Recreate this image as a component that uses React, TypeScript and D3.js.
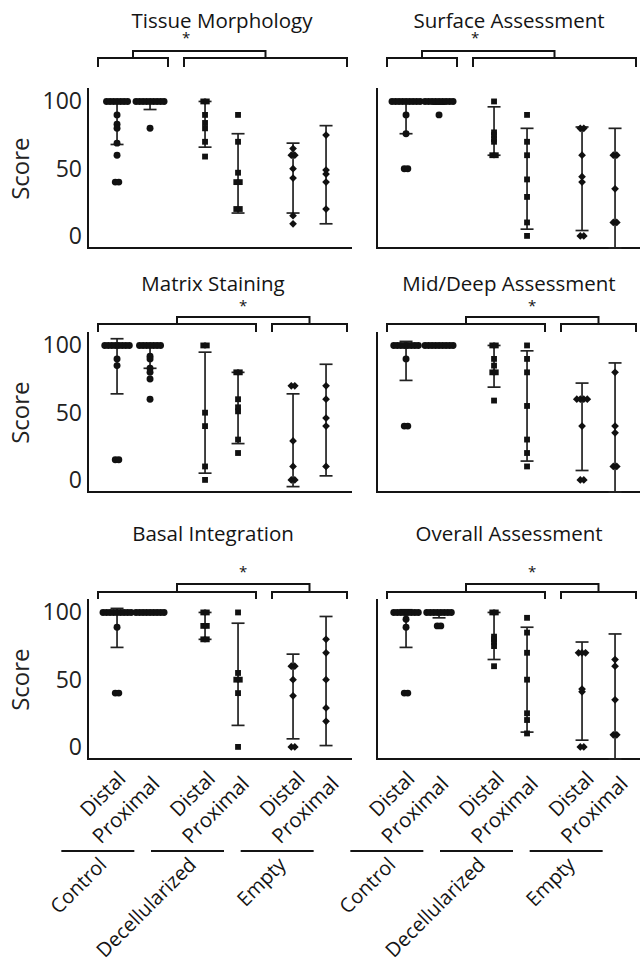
import React from "react";
import * as d3 from "d3";

const panelTitles = [
  "Tissue Morphology",
  "Surface Assessment",
  "Matrix Staining",
  "Mid/Deep Assessment",
  "Basal Integration",
  "Overall Assessment",
];
const groups = ["Control", "Decellularized", "Empty"];
const sites = ["Distal", "Proximal"];
const yTicks = [0, 50, 100];

// each panel: 6 columns = Control D/P, Decellularized D/P, Empty D/P
const tissueMorphology = [
  [100, 100, 100, 100, 100, 100, 100, 90, 83, 80, 69, 60, 40, 40],
  [100, 100, 100, 100, 100, 100, 100, 100, 100, 80],
  [100, 100, 90, 84, 80, 70, 59],
  [90, 70, 47, 40, 40, 20, 20],
  [65, 60, 60, 50, 43, 15, 9],
  [75, 49, 46, 40, 20],
];
const surfaceAssessment = [
  [100, 100, 100, 100, 100, 100, 100, 100, 100, 90, 76, 50, 50],
  [100, 100, 100, 100, 100, 100, 100, 100, 100, 90],
  [100, 77, 75, 72, 70, 60, 60],
  [90, 70, 60, 42, 29, 10, 0],
  [80, 80, 60, 44, 40, 0, 0],
  [60, 60, 35, 10, 10],
];
const matrixStaining = [
  [100, 100, 100, 100, 100, 100, 100, 100, 90, 85, 15, 15],
  [100, 100, 100, 100, 100, 100, 100, 92, 90, 83, 80, 75, 60],
  [100, 100, 50, 40, 10, 0],
  [80, 80, 60, 54, 51, 30, 20],
  [70, 70, 29, 10, 0, 0],
  [70, 60, 46, 40, 10],
];
const midDeepAssessment = [
  [100, 100, 100, 100, 100, 100, 100, 100, 90, 40, 40],
  [100, 100, 100, 100, 100, 100, 100, 100, 100],
  [100, 100, 90, 85, 80, 80, 59],
  [100, 90, 80, 55, 30, 20, 10],
  [60, 60, 60, 60, 40, 0, 0],
  [80, 40, 35, 10, 10],
];
const basalIntegration = [
  [100, 100, 100, 100, 100, 100, 100, 100, 100, 89, 40, 40],
  [100, 100, 100, 100, 100, 100, 100, 100, 100],
  [100, 100, 90, 90, 80, 80],
  [100, 55, 50, 50, 40, 0],
  [60, 60, 50, 38, 0, 0],
  [80, 70, 50, 29, 19],
];
const overallAssessment = [
  [100, 100, 100, 100, 100, 100, 100, 100, 95, 89, 40, 40],
  [100, 100, 100, 100, 100, 100, 100, 100, 90, 90],
  [100, 100, 82, 80, 78, 75, 60],
  [96, 85, 70, 50, 25, 20, 10],
  [70, 70, 70, 43, 41, 0, 0],
  [65, 60, 35, 9, 9],
];

// error bars [low, high] per column
const tissueBars = [[68, 100], [94, 100], [66, 100], [17, 76], [17, 69], [9, 82]];
const surfaceBars = [[76, 100], [98, 100], [60, 96], [5, 80], [4, 81], [-9, 80]];
const matrixBars = [[64, 105], [83, 100], [5, 95], [27, 80], [-5, 64], [3, 86]];
const midDeepBars = [[74, 103], [100, 100], [69, 100], [14, 96], [7, 72], [-9, 87]];
const basalBars = [[74, 103], [100, 100], [80, 100], [16, 92], [6, 69], [1, 97]];
const overallBars = [[74, 102], [96, 100], [65, 100], [11, 89], [5, 78], [-9, 84]];

// significance: first set of groups vs second set
const sigFirst = [["Control"], ["Control"], ["Control", "Decellularized"], ["Control", "Decellularized"], ["Control", "Decellularized"], ["Control", "Decellularized"]];
const sigSecond = [["Decellularized", "Empty"], ["Decellularized", "Empty"], ["Empty"], ["Empty"], ["Empty"], ["Empty"]];

const panelScores = [tissueMorphology, surfaceAssessment, matrixStaining, midDeepAssessment, basalIntegration, overallAssessment];
const panelBars = [tissueBars, surfaceBars, matrixBars, midDeepBars, basalBars, overallBars];

const FONT = "'Open Sans', 'Noto Sans', sans-serif";
const INK = "#141414";
const colLeft = [88, 377];
const rowTop = [88, 332, 599];
const PW = 264;
const PH = 160;
// per row: title baseline, star, top bracket, bracket, tick end (relative to panel top)
const rowLayout = [
  { title: -60, titleDx: 2, star: -53, starDx: -13, top: -37, bracket: -30, tick: -21 },
  { title: -41, titleDx: -7, star: -29, starDx: 0, top: -15, bracket: -8, tick: 0 },
  { title: -58, titleDx: -7, star: -30, starDx: 0, top: -15, bracket: -7, tick: 0 },
];

function Panel({ idx }: { idx: number }) {
  const row = Math.floor(idx / 2);
  const col = idx % 2;
  const x0 = colLeft[col];
  const y0 = rowTop[row];
  const lay = rowLayout[row];

  const x = d3.scaleBand().domain(groups).range([x0, x0 + PW]);
  const bw = x.bandwidth();
  const sub = d3.scalePoint().domain(sites).range([bw * 0.33, bw * 0.705]);
  const y = d3.scaleLinear().domain([-9, 110]).range([y0 + PH, y0]);

  const scores = panelScores[idx];
  const bars = panelBars[idx];

  const colX = (c: number) => x(groups[Math.floor(c / 2)])! + sub(sites[c % 2])!;

  // brackets
  const first = sigFirst[idx];
  const second = sigSecond[idx];
  const aStart = x(first[0])! + 10;
  const aEnd = x(first[first.length - 1])! + bw - 8;
  const bStart = x(second[0])! + 8;
  const bEnd = x(second[second.length - 1])! + bw - 5;
  const aMid = (aStart + aEnd) / 2;
  const bMid = (bStart + bEnd) / 2;
  const yb = y0 + lay.bracket;
  const yt = y0 + lay.tick;
  const ytop = y0 + lay.top;

  return (
    <g>
      <text x={x0 + PW / 2 + (col === 0 ? lay.titleDx : 0)} y={y0 + lay.title} textAnchor="middle" fontSize={20.5} fill={INK} fontFamily={FONT}>
        {panelTitles[idx]}
      </text>
      <g fill="none" stroke={INK} strokeWidth={2}>
        <path d={`M${aStart},${yt}V${yb}H${aEnd}V${yt}`} />
        <path d={`M${bStart},${yt}V${yb}H${bEnd}V${yt}`} />
        <path d={`M${aMid},${yb}V${ytop}H${bMid}V${yb}`} />
      </g>
      <text x={(aMid + bMid) / 2 + lay.starDx} y={y0 + lay.star + 8} textAnchor="middle" fontSize={15} fill={INK} fontFamily={FONT}>
        *
      </text>

      {/* axes */}
      <path d={`M${x0},${y0}V${y0 + PH}H${x0 + PW}`} fill="none" stroke={INK} strokeWidth={2} />
      {col === 0 &&
        yTicks.map((t) => (
          <text key={t} x={x0 - 6} y={y(t)} dy="0.35em" textAnchor="end" fontSize={23} fill="#222" fontFamily={FONT}>
            {t}
          </text>
        ))}
      {col === 0 && (
        <text transform={`translate(29,${y(50)}) rotate(-90)`} textAnchor="middle" fontSize={24} fill="#222" fontFamily={FONT}>
          Score
        </text>
      )}

      {/* error bars */}
      {bars.map(([lo, hi], c) => {
        if (lo === hi) return null;
        const cx = colX(c);
        return (
          <g key={`e${c}`} stroke="#222" strokeWidth={1.7}>
            <line x1={cx} x2={cx} y1={y(lo)} y2={y(hi)} />
            <line x1={cx - 6.5} x2={cx + 6.5} y1={y(lo)} y2={y(lo)} />
            <line x1={cx - 6.5} x2={cx + 6.5} y1={y(hi)} y2={y(hi)} />
          </g>
        );
      })}

      {/* points, identical scores spread sideways */}
      {scores.map((vals, c) => {
        const g = groups[Math.floor(c / 2)];
        const cx = colX(c);
        const counts = d3.rollup(vals, (v) => v.length, (v) => v);
        const seen = new Map<number, number>();
        const shape = g === "Control" ? d3.symbolCircle : d3.symbolSquare;
        const size = g === "Control" ? 38 : g === "Empty" ? 30 : 34;
        const path = d3.symbol().type(shape).size(size)()!;
        return vals.map((v, i) => {
          const n = counts.get(v)!;
          const k = seen.get(v) || 0;
          seen.set(v, k + 1);
          const dx = (k - (n - 1) / 2) * 3.5;
          const rot = g === "Empty" ? " rotate(45)" : "";
          return <path key={`p${c}-${i}`} d={path} transform={`translate(${cx + dx},${y(v)})${rot}`} fill="#111" />;
        });
      })}
    </g>
  );
}

function BottomLabels({ col }: { col: number }) {
  const x0 = colLeft[col];
  const lx = d3.scaleBand().domain(groups).range([x0 - 35, x0 + PW - 30]);
  const sx = d3.scalePoint().domain(sites).range([29, 63]);
  return (
    <g fontFamily={FONT} fill={INK} fontSize={20.5}>
      {groups.map((g) => {
        const c = lx(g)! + lx.bandwidth() / 2;
        return (
          <g key={g}>
            <line x1={c - 36.5} x2={c + 36.5} y1={851} y2={851} stroke={INK} strokeWidth={2} />
            {sites.map((s, i) => (
              <text key={s} transform={`translate(${c + sx(s)!},${780 + i * 5}) rotate(-45)`} textAnchor="end">
                {s}
              </text>
            ))}
            <text transform={`translate(${c + 10},${866}) rotate(-45)`} textAnchor="end" fontSize={20}>
              {g}
            </text>
          </g>
        );
      })}
    </g>
  );
}

export default function App() {
  return (
    <svg width={640} height={968} style={{ display: "block", position: "absolute", left: 0, top: 0, background: "#fff" }}>
      {panelTitles.map((_, i) => (
        <Panel key={i} idx={i} />
      ))}
      <BottomLabels col={0} />
      <BottomLabels col={1} />
    </svg>
  );
}
